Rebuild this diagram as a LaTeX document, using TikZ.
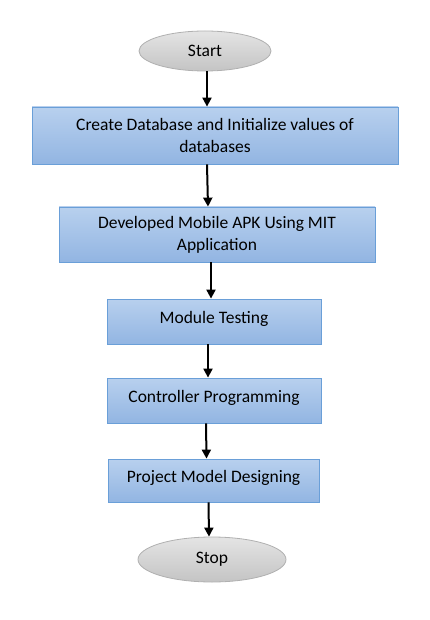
\documentclass[tikz,border=0pt]{standalone}
\usepackage{fontspec}
\setmainfont{Carlito}
\usetikzlibrary{shapes.geometric,arrows.meta}
\definecolor{boxtop}{HTML}{B8D0EE}
\definecolor{boxbot}{HTML}{92B5E2}
\definecolor{boxline}{HTML}{6A9FD8}
\definecolor{elltop}{HTML}{E4E4E4}
\definecolor{ellbot}{HTML}{C4C4C4}
\definecolor{ellline}{HTML}{B0B0B0}
\tikzset{
  stepbox/.style={rectangle, draw=boxline, line width=0.8pt, top color=boxtop, bottom color=boxbot,
    align=center, font=\fontsize{17.5}{22}\selectfont, inner sep=0pt},
  raised/.style={text height=12pt, text depth=9pt},
  term/.style={ellipse, draw=ellline, line width=0.8pt, top color=elltop, bottom color=ellbot,
    font=\fontsize{17.5}{20}\selectfont, inner sep=0pt},
  conn/.style={line width=2pt, -{Triangle[length=9pt,width=9pt]}}
}
\begin{document}
\begin{tikzpicture}[x=1pt,y=-1pt]
\useasboundingbox[fill=white] (0,0) rectangle (430,620);
\node[term, minimum width=132pt, minimum height=40pt] (start) at (205,51) {Start};
\node[stepbox, minimum width=366pt, minimum height=57pt] (b1) at (215,135.5) {Create Database and Initialize values of\\databases};
\node[stepbox, minimum width=316pt, minimum height=55pt] (b2) at (217,234.5) {Developed Mobile APK Using MIT\\Application};
\node[stepbox, raised, minimum width=214pt, minimum height=45pt] (b3) at (214,321.5) {Module Testing};
\node[stepbox, raised, minimum width=214pt, minimum height=45pt] (b4) at (214,400.5) {Controller Programming};
\node[stepbox, raised, minimum width=211pt, minimum height=43pt] (b5) at (213.5,480.5) {Project Model Designing};
\node[term, minimum width=148pt, minimum height=45pt] (stop) at (212,559.5) {Stop};
\draw[conn] ([xshift=2pt]start.south) -- ([xshift=-8pt]b1.north);
\draw[conn] ([xshift=-8pt]b1.south) -- ([xshift=-9pt]b2.north);
\draw[conn] ([xshift=-6pt]b2.south) -- ([xshift=-3pt]b3.north);
\draw[conn] ([xshift=-6pt]b3.south) -- ([xshift=-6pt]b4.north);
\draw[conn] ([xshift=-8pt]b4.south) -- ([xshift=-7pt]b5.north);
\draw[conn] ([xshift=-5pt]b5.south) -- ([xshift=-3pt]stop.north);
\end{tikzpicture}
\end{document}
